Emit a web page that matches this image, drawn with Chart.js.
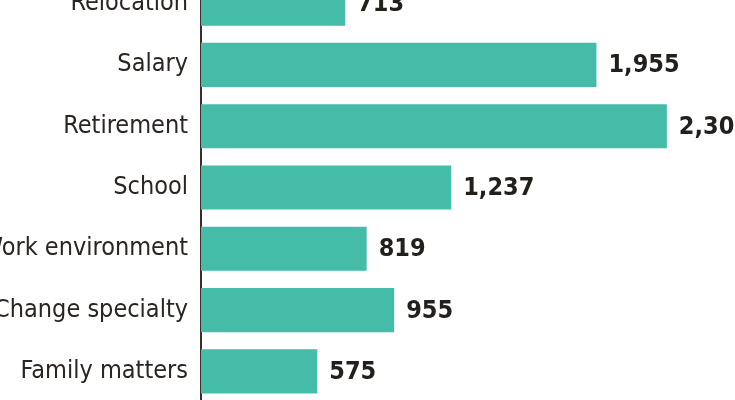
<!DOCTYPE html>
<html>
<head>
<meta charset="utf-8">
<script src="https://cdn.jsdelivr.net/npm/chart.js@4"></script>
<style>
    html, body { margin: 0; padding: 0; background: #fff; overflow: hidden; }
    #wrap { position: absolute; left: 0; top: -55px; width: 735px; height: 485px; }
</style>
</head>
<body>
<div id="wrap"><canvas id="reasonsChart"></canvas></div>
<script>
// Chart data
const categories = ['Relocation', 'Salary', 'Retirement', 'School', 'Work environment', 'Change specialty', 'Family matters'];
const counts = [713, 1955, 2303, 1237, 819, 955, 575];

const labelFont = '"Liberation Sans Narrow", "DejaVu Sans Condensed", "Roboto Condensed", sans-serif';

// Format numbers with thousands separator
function formatCount(value) {
    return value.toString().replace(/\B(?=(\d{3})+(?!\d))/g, ',');
}

// Draw value labels to the right of each bar
const valueLabels = {
    id: 'valueLabels',
    afterDatasetsDraw(chart) {
        const ctx = chart.ctx;
        const meta = chart.getDatasetMeta(0);
        ctx.save();
        ctx.font = 'bold 25px ' + labelFont;
        ctx.fillStyle = '#231f1d';
        ctx.textAlign = 'left';
        ctx.textBaseline = 'middle';
        meta.data.forEach((bar, i) => {
            ctx.fillText(formatCount(counts[i]), bar.x + 12, bar.y + 1);
        });
        ctx.restore();
    }
};

const ctx = document.getElementById('reasonsChart');
new Chart(ctx, {
    type: 'bar',
    data: {
        labels: categories,
        datasets: [{
            data: counts,
            backgroundColor: '#45bca8',
            borderWidth: 0,
            categoryPercentage: 1,
            barPercentage: 0.72
        }]
    },
    options: {
        indexAxis: 'y',
        responsive: true,
        maintainAspectRatio: false,
        animation: false,
        layout: { padding: 0 },
        plugins: {
            legend: { display: false },
            tooltip: { enabled: false }
        },
        scales: {
            x: {
                display: false,
                min: 0,
                max: 2640
            },
            y: {
                afterFit(scale) { scale.width = 201; },
                grid: { display: false, drawTicks: false },
                border: { display: true, color: '#3a2e29', width: 2 },
                ticks: {
                    padding: 13,
                    color: '#2b2421',
                    font: { family: labelFont, size: 25 }
                }
            }
        }
    },
    plugins: [valueLabels]
});
</script>
</body>
</html>
